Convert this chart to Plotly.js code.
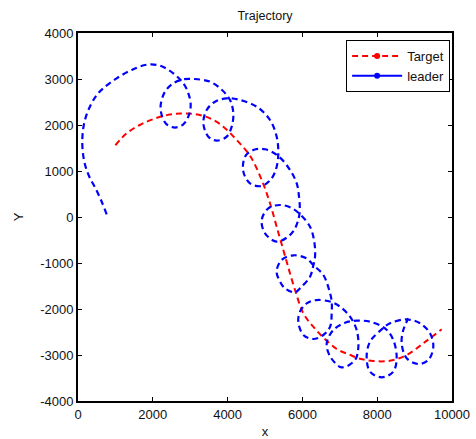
<!DOCTYPE html>
<html>
<head>
<meta charset="utf-8">
<script src="https://cdn.plot.ly/plotly-3.0.1.min.js"></script>
<style>html,body{margin:0;padding:0;background:#fff;}#chart{width:476px;height:439px;}</style>
</head>
<body>
<div id="chart"></div>
<script>
// Target trajectory (red dashed)
const targetX = [1000, 1300, 1650, 2000, 2400, 2750, 3100, 3530, 3885, 4243, 4600, 4912, 5134, 5312, 5490, 5624, 5803, 6025, 6290, 6560, 6917, 7250, 7540, 7897, 8343, 8788, 9233, 9724];
const targetY = [1560, 1819, 2000, 2124, 2220, 2250, 2240, 2145, 1964, 1674, 1330, 804, 298, -211, -717, -1100, -1587, -2094, -2385, -2620, -2870, -2990, -3080, -3131, -3124, -3000, -2746, -2442];

// Leader trajectory (blue dashed)
const leaderX = [767, 640, 470, 300, 190, 130, 115, 135, 200, 330, 500, 677, 1034, 1435, 1836, 2193, 2549, 2816, 2950, 3013, 2950, 2816, 2594, 2371, 2238, 2211, 2326, 2549, 2816, 3102, 3530, 3850, 4065, 4153, 4109, 3976, 3708, 3485, 3352, 3441, 3663, 3976, 4332, 4778, 5134, 5312, 5356, 5312, 5179, 4912, 4600, 4421, 4466, 4688, 5001, 5356, 5669, 5848, 5910, 5930, 5890, 5780, 5615, 5312, 5001, 4912, 5088, 5401, 5700, 5936, 6204, 6320, 6338, 6290, 6204, 5935, 5803, 5535, 5400, 5310, 5445, 5757, 6115, 6290, 6560, 6740, 6783, 6783, 6740, 6560, 6290, 6025, 5890, 5935, 6115, 6380, 6783, 7007, 7273, 7451, 7496, 7407, 7050, 6740, 6650, 6828, 7140, 7451, 7808, 8209, 8431, 8520, 8431, 8120, 7808, 7718, 7808, 8120, 8343, 8788, 9145, 9412, 9500, 9367, 9100, 8788, 8654, 8698, 8832];
const leaderY = [59, 320, 620, 880, 1130, 1400, 1650, 1900, 2150, 2420, 2650, 2800, 3015, 3196, 3310, 3290, 3123, 2906, 2689, 2435, 2181, 2015, 1945, 2015, 2217, 2435, 2725, 2906, 2993, 3000, 2942, 2761, 2543, 2254, 1964, 1747, 1660, 1747, 2037, 2326, 2507, 2579, 2543, 2398, 2109, 1746, 1385, 1094, 841, 674, 732, 986, 1311, 1457, 1472, 1326, 1022, 732, 441, 150, -60, -280, -428, -537, -355, -65, 189, 261, 200, 60, -211, -550, -860, -1060, -1297, -1551, -1638, -1551, -1400, -1180, -935, -833, -900, -1044, -1261, -1659, -1841, -2094, -2385, -2565, -2652, -2565, -2276, -2058, -1877, -1805, -1850, -1950, -2167, -2457, -2820, -3109, -3268, -3029, -2746, -2457, -2300, -2254, -2276, -2420, -2674, -3072, -3362, -3485, -3362, -3037, -2711, -2442, -2311, -2225, -2311, -2529, -2820, -3109, -3196, -3072, -2746, -2457, -2203];

const legendNames = ['Target', 'leader'];
const xTicks = [0, 2000, 4000, 6000, 8000, 10000];
const yTicks = [-4000, -3000, -2000, -1000, 0, 1000, 2000, 3000, 4000];

const FONT = 'Liberation Sans, Arial, Helvetica, sans-serif';

const traces = [
  {x: targetX, y: targetY, mode: 'lines', type: 'scatter', showlegend: false,
   line: {color: '#ff0000', width: 2, dash: '6px,4px', shape: 'spline', smoothing: 1}},
  {x: leaderX, y: leaderY, mode: 'lines', type: 'scatter', showlegend: false,
   line: {color: '#0000ff', width: 2.2, dash: '6px,4px', shape: 'spline', smoothing: 1}},
  {x: [null], y: [null], mode: 'lines+markers', type: 'scatter', name: legendNames[0], legendgroup: 'a',
   line: {color: '#ff0000', width: 2, dash: '6px,4px'}, marker: {color: '#ff0000', size: 6}},
  {x: [null], y: [null], mode: 'lines+markers', type: 'scatter', name: legendNames[1], legendgroup: 'b',
   line: {color: '#0000ff', width: 2}, marker: {color: '#0000ff', size: 6}}
];

const axisCommon = {
  showline: true, linecolor: '#000', linewidth: 2, mirror: 'ticks',
  ticks: 'inside', ticklen: 4, tickcolor: '#000', tickwidth: 1,
  showgrid: false, zeroline: false, tickfont: {family: FONT, size: 13, color: '#111'}
};

const layout = {
  width: 476, height: 439,
  margin: {l: 78, r: 24, t: 33, b: 38},
  paper_bgcolor: '#fff', plot_bgcolor: '#fff',
  font: {family: FONT, size: 13, color: '#111'},
  title: {text: 'Trajectory', font: {family: FONT, size: 12.5, color: '#111'},
          xref: 'paper', x: 0.5, xanchor: 'center', yref: 'container', y: 1 - 16/439, yanchor: 'middle'},
  xaxis: Object.assign({}, axisCommon, {range: [0, 10000], tickvals: xTicks, ticktext: xTicks.map(String),
          title: {text: 'x', font: {family: FONT, size: 13}, standoff: 7}}),
  yaxis: Object.assign({}, axisCommon, {range: [-4000, 4000], tickvals: yTicks, ticktext: yTicks.map(String),
          title: {text: 'Y', font: {family: FONT, size: 13}, standoff: 14}}),
  showlegend: true,
  legend: {x: 0.995, xanchor: 'right', y: 0.981, yanchor: 'top', xref: 'paper', yref: 'paper',
           bgcolor: '#fff', bordercolor: '#000', borderwidth: 1,
           font: {family: FONT, size: 13, color: '#111'}, itemwidth: 50, tracegroupgap: 0}
};

Plotly.newPlot('chart', traces, layout, {staticPlot: true, displayModeBar: false});
</script>
</body>
</html>
